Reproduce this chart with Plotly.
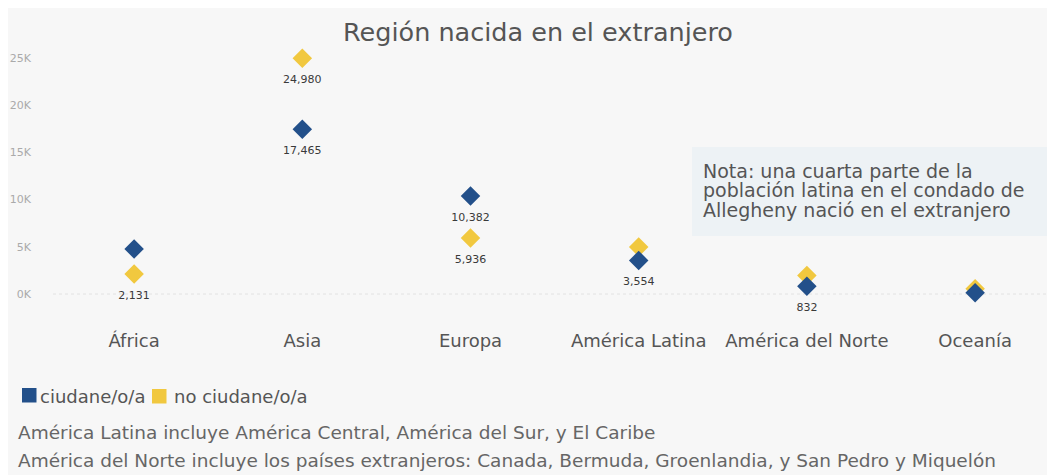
import plotly.graph_objects as go

regions = ["África", "Asia", "Europa", "América Latina", "América del Norte", "Oceanía"]
ciudadano = [4770, 17465, 10382, 3554, 832, 120]
no_ciudadano = [2131, 24980, 5936, 4980, 1950, 550]
show_label_ciudadano = [False, True, True, True, True, False]
show_label_no_ciudadano = [True, True, True, False, False, False]
y_tickvals = [0, 5000, 10000, 15000, 20000, 25000]
y_ticktext = ["0K", "5K", "10K", "15K", "20K", "25K"]
legend_names = ["ciudane/o/a", "no ciudane/o/a"]

BLUE = "#23508a"
YELLOW = "#f1c83f"
BG = "#f7f7f7"
FONT = "DejaVu Sans"

def labels(vals, mask):
    return [f"{v:,}" if m else "" for v, m in zip(vals, mask)]

# page has an 8px body margin; figure coordinates = page coordinates - 8
OFF = 8
W, H = 1055 - OFF, 475 - OFF
L, R, T, B = 50 - OFF, 0, 40 - OFF, 155
PW, PH = W - L - R, H - T - B

def px(x):  # page x -> paper
    return (x - OFF - L) / PW

def py(y):  # page y -> paper
    return (H - B - (y - OFF)) / PH

fig = go.Figure()
for vals, col, name in [(no_ciudadano, YELLOW, legend_names[1]), (ciudadano, BLUE, legend_names[0])]:
    fig.add_trace(go.Scatter(
        x=regions, y=vals, mode="markers",
        marker=dict(symbol="diamond", size=15, color=col),
        showlegend=False, name=name, hoverinfo="skip"))
# value labels (offset below the markers)
for vals, mask in [(no_ciudadano, show_label_no_ciudadano), (ciudadano, show_label_ciudadano)]:
    fig.add_trace(go.Scatter(
        x=regions, y=vals, mode="markers+text",
        text=labels(vals, mask), textposition="bottom center",
        textfont=dict(family=FONT, size=11, color="#3a3a3a"),
        marker=dict(size=25, color="rgba(0,0,0,0)"),
        showlegend=False, hoverinfo="skip"))

# zero reference line (dotted)
fig.add_shape(type="line", xref="paper", yref="y", x0=0.003, x1=1, y0=0, y1=0,
              line=dict(color="#e2e2e2", width=1, dash="dot"), layer="below")

# legend: colour squares + labels
for (x0, y0, col), (tx, name) in zip([(22, 388, BLUE), (152, 389, YELLOW)],
                                     [(38, legend_names[0]), (172, legend_names[1])]):
    fig.add_shape(type="rect", xref="paper", yref="paper",
                  x0=px(x0), x1=px(x0 + 14.5), y0=py(y0 + 14.5), y1=py(y0),
                  fillcolor=col, line=dict(width=0))
    fig.add_annotation(text=name, xref="paper", yref="paper", x=px(tx), y=py(396),
                       xanchor="left", yanchor="middle", showarrow=False,
                       font=dict(family=FONT, size=18, color="#555"))

# note box
fig.add_shape(type="rect", xref="paper", yref="paper",
              x0=px(692), x1=px(1070), y0=py(236), y1=py(147),
              fillcolor="#edf2f5", line=dict(width=0), layer="below")
note_lines = ["Nota: una cuarta parte de la",
              "población latina en el condado de",
              "Allegheny nació en el extranjero"]
for i, line in enumerate(note_lines):
    fig.add_annotation(text=line, xref="paper", yref="paper", x=px(701), y=py(170.5 + 19.5 * i),
                       xanchor="left", yanchor="middle", showarrow=False,
                       font=dict(family=FONT, size=19, color="#555"))

footnotes = ["América Latina incluye América Central, América del Sur, y El Caribe",
             "América del Norte incluye los países extranjeros: Canada, Bermuda, Groenlandia, y San Pedro y Miquelón"]
for i, line in enumerate(footnotes):
    fig.add_annotation(text=line, xref="paper", yref="paper", x=px(16), y=py(432 + 28 * i),
                       xanchor="left", yanchor="middle", showarrow=False,
                       font=dict(family=FONT, size=18.5, color="#666"))

fig.update_layout(
    width=W, height=H,
    margin=dict(l=L, r=R, t=T, b=B),
    paper_bgcolor=BG, plot_bgcolor=BG,
    font=dict(family=FONT, color="#555"),
    title=dict(text="Región nacida en el extranjero", x=(538 - OFF) / W, xanchor="center",
               y=1 - (32 - OFF) / H, yanchor="middle", yref="container",
               font=dict(family=FONT, size=25.5, color="#555")),
    showlegend=False,
    hovermode=False,
)
fig.update_xaxes(type="category", range=[-0.5, 5.475], showgrid=False, zeroline=False,
                 showline=False, ticks="", ticklabelstandoff=8,
                 tickfont=dict(family=FONT, size=18, color="#555"), fixedrange=True)
fig.update_yaxes(range=[-2754, 26907], tickvals=y_tickvals, ticktext=y_ticktext,
                 showgrid=False, zeroline=False, showline=False, ticks="",
                 ticklabelstandoff=18, tickfont=dict(family=FONT, size=11, color="#aaa"),
                 fixedrange=True)

fig.write_html("out.html")
